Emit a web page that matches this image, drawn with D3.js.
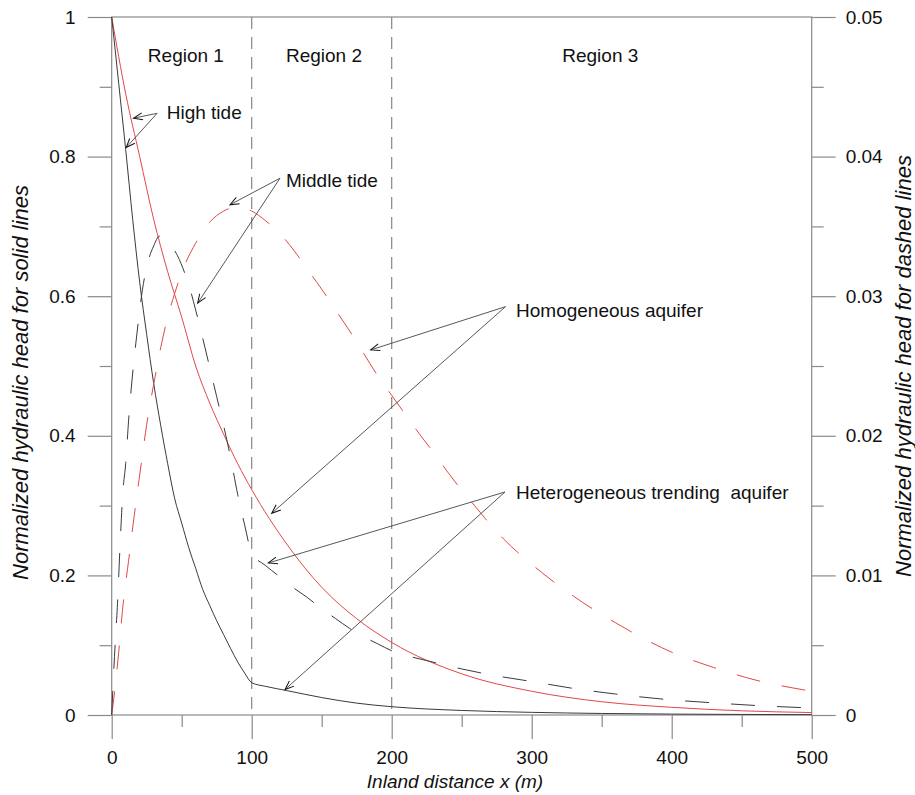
<!DOCTYPE html>
<html>
<head>
  <meta charset="UTF-8">
  <title>Normalized hydraulic head</title>
  <style>
    body { margin: 0; background: #fff; }
    svg { display: block; font-family: "Liberation Sans", Arial, sans-serif; }
    .axis line { stroke: #8a8a8a; stroke-width: 1.2; }
    .axis path { display: none; }
    .axis text { font-size: 19px; fill: #111; }
    .lbl { font-size: 19px; fill: #111; white-space: pre; }
    .title { font-size: 22px; font-style: italic; fill: #111; }
    .arrow { stroke: #444; stroke-width: 0.9; fill: none; }
  </style>
</head>
<body>
  <svg></svg>
  <script src="https://d3js.org/d3.v7.min.js"></script>
  <script>
    let width = 915, height = 795;

    // solid lines, left axis (high tide)
    const homoHighX = [0, 10, 20, 30, 40, 50, 60, 70, 80, 90, 100, 125, 150, 175, 200, 250, 300, 350, 400, 450, 500];
    const homoHighY = [1, 0.89, 0.80, 0.71, 0.635, 0.57, 0.50, 0.447, 0.402, 0.36, 0.323, 0.245, 0.183, 0.138, 0.104, 0.059, 0.034, 0.019, 0.011, 0.006, 0.0035];
    const hetHighX = [0, 5, 10, 15, 20, 25, 30, 35, 40, 45, 50, 55, 60, 65, 70, 75, 80, 85, 90, 95, 100, 110, 125, 150, 175, 200, 250, 300, 350, 400, 450, 500];
    const hetHighY = [1, 0.905, 0.81, 0.71, 0.62, 0.545, 0.475, 0.415, 0.36, 0.31, 0.275, 0.24, 0.21, 0.18, 0.157, 0.135, 0.115, 0.095, 0.076, 0.06, 0.0463, 0.041, 0.035, 0.025, 0.017, 0.0119, 0.0065, 0.0038, 0.0022, 0.0013, 0.0008, 0.0005];

    // dashed lines, right axis (middle tide)
    const homoMidX = [0, 2, 5, 8, 12, 16, 20, 25, 30, 35, 40, 45, 50, 60, 70, 80, 90, 100, 110, 120, 130, 140, 150, 160, 170, 180, 190, 200, 210, 220, 230, 240, 250, 260, 270, 280, 300, 330, 360, 400, 430, 460, 500];
    const homoMidY = [0, 0.0016, 0.0045, 0.0078, 0.011, 0.0142, 0.0172, 0.0208, 0.0237, 0.0263, 0.0285, 0.0302, 0.0317, 0.0338, 0.0353, 0.0361, 0.0364, 0.0361, 0.0354, 0.0345, 0.0333, 0.0319, 0.0305, 0.029, 0.0275, 0.0259, 0.0243, 0.0229, 0.0215, 0.0201, 0.0188, 0.0174, 0.0161, 0.0149, 0.0137, 0.0126, 0.0108, 0.0085, 0.0066, 0.0045, 0.0034, 0.0025, 0.0017];
    const hetMidX = [0, 1, 2, 3, 4, 6, 8, 10, 12, 15, 18, 22, 26, 30, 34, 38, 42, 47, 52, 56, 60, 65, 70, 75, 80, 85, 90, 95, 100, 110, 120, 130, 140, 150, 160, 170, 180, 190, 200, 225, 250, 275, 300, 330, 360, 400, 430, 460, 500];
    const hetMidY = [0, 0.0022, 0.0042, 0.006, 0.0077, 0.0122, 0.016, 0.018, 0.021, 0.0245, 0.0273, 0.0305, 0.0325, 0.0336, 0.0343, 0.0342, 0.0337, 0.0329, 0.0317, 0.0305, 0.029, 0.027, 0.0249, 0.0228, 0.0207, 0.0184, 0.0158, 0.0136, 0.0116, 0.0107, 0.0099, 0.0091, 0.0084, 0.0076, 0.0069, 0.0062, 0.0056, 0.0051, 0.0046, 0.0039, 0.0033, 0.0028, 0.0024, 0.0019, 0.0015, 0.00108, 0.00087, 0.00068, 0.0005];

    const xTicks = [0, 100, 200, 300, 400, 500];
    const yLeftTicks = [0, 0.2, 0.4, 0.6, 0.8, 1];
    const yRightTicks = [0, 0.01, 0.02, 0.03, 0.04, 0.05];
    const regionBounds = [100, 200];
    const regionNames = ["Region 1", "Region 2", "Region 3"];
    const regionCenters = [53, 151.6, 349];

    // annotations in data units (x, left-axis value)
    const notes = [
      { text: "High tide", at: [39.3, 0.8537], from: [32.4, 0.862], tips: [[15.6, 0.855], [10.4, 0.813]] },
      { text: "Middle tide", at: [124.5, 0.757], from: [120.2, 0.769], tips: [[84.5, 0.731], [61.4, 0.590]] },
      { text: "Homogeneous aquifer", at: [288.8, 0.570], from: [281.3, 0.585], tips: [[185, 0.523], [114.3, 0.289]] },
      { text: "Heterogeneous trending  aquifer", at: [288.8, 0.309], from: [280.9, 0.3195], tips: [[111.9, 0.2178], [123.8, 0.0365]] }
    ];

    let svg = d3.select("svg").attr("width", width).attr("height", height);

    let x = d3.scaleLinear().domain([0, 500]).range([111.7, 811.7]);
    let yL = d3.scaleLinear().domain([0, 1]).range([715, 17]);
    let yR = d3.scaleLinear().domain([0, 0.05]).range([715, 17]);

    // frame
    svg.append("rect")
      .attr("x", x(0)).attr("y", yL(1))
      .attr("width", x(500) - x(0)).attr("height", yL(0) - yL(1))
      .attr("fill", "none").attr("stroke", "#8a8a8a").attr("stroke-width", 1.2);

    // region dividers
    svg.selectAll(".divider").data(regionBounds).enter().append("line")
      .attr("x1", d => x(d)).attr("x2", d => x(d))
      .attr("y1", yL(1)).attr("y2", yL(0))
      .attr("stroke", "#858585").attr("stroke-width", 1.2)
      .attr("stroke-dasharray", "12,8");

    // axes
    svg.append("g").attr("class", "axis")
      .attr("transform", `translate(0,${yL(0)})`)
      .call(d3.axisBottom(x).tickValues(xTicks).tickSize(24).tickPadding(12).tickFormat(d3.format("d")));
    svg.append("g").attr("class", "axis")
      .attr("transform", `translate(0,${yL(0)})`)
      .call(d3.axisBottom(x).tickValues([50, 150, 250, 350, 450]).tickSize(12).tickFormat(""));

    svg.append("g").attr("class", "axis")
      .attr("transform", `translate(${x(0)},0)`)
      .call(d3.axisLeft(yL).tickValues(yLeftTicks).tickSize(24).tickPadding(12).tickFormat(d => d));
    svg.append("g").attr("class", "axis")
      .attr("transform", `translate(${x(0)},0)`)
      .call(d3.axisLeft(yL).tickValues([0.1, 0.3, 0.5, 0.7, 0.9]).tickSize(12).tickFormat(""));

    svg.append("g").attr("class", "axis")
      .attr("transform", `translate(${x(500)},0)`)
      .call(d3.axisRight(yR).tickValues(yRightTicks).tickSize(24).tickPadding(10).tickFormat(d => d));
    svg.append("g").attr("class", "axis")
      .attr("transform", `translate(${x(500)},0)`)
      .call(d3.axisRight(yR).tickValues([0.005, 0.015, 0.025, 0.035, 0.045]).tickSize(12).tickFormat(""));

    svg.selectAll(".axis text").attr("font-family", "Liberation Sans, Arial, sans-serif");

    // curves
    let lineL = d3.line().x(d => x(d[0])).y(d => yL(d[1])).curve(d3.curveMonotoneX);
    let lineR = d3.line().x(d => x(d[0])).y(d => yR(d[1])).curve(d3.curveMonotoneX);
    let series = [
      { xs: homoHighX, ys: homoHighY, line: lineL, color: "#e04848", dash: null },
      { xs: hetHighX, ys: hetHighY, line: lineL, color: "#3a3a3a", dash: null },
      { xs: homoMidX, ys: homoMidY, line: lineR, color: "#e04848", dash: "24,22" },
      { xs: hetMidX, ys: hetMidY, line: lineR, color: "#3a3a3a", dash: "24,22" }
    ];
    svg.selectAll(".curve").data(series).enter().append("path")
      .attr("d", s => s.line(s.xs.map((v, i) => [v, s.ys[i]])))
      .attr("fill", "none")
      .attr("stroke", s => s.color)
      .attr("stroke-width", 1)
      .attr("stroke-dasharray", s => s.dash);

    // region labels
    svg.selectAll(".region").data(regionNames).enter().append("text")
      .attr("class", "lbl")
      .attr("x", (d, i) => x(regionCenters[i]))
      .attr("y", yL(0.9355))
      .attr("text-anchor", "middle")
      .text(d => d);

    // arrows
    svg.append("defs").append("marker")
      .attr("id", "head")
      .attr("viewBox", "-10 -5 12 10")
      .attr("refX", 0).attr("refY", 0)
      .attr("markerWidth", 12).attr("markerHeight", 10)
      .attr("markerUnits", "userSpaceOnUse")
      .attr("orient", "auto")
      .append("path")
      .attr("d", "M-9,-3.5 L0,0 L-9,3.5")
      .attr("fill", "none").attr("stroke", "#111").attr("stroke-width", 1);

    notes.forEach(n => {
      n.tips.forEach(t => {
        svg.append("line").attr("class", "arrow")
          .attr("x1", x(n.from[0])).attr("y1", yL(n.from[1]))
          .attr("x2", x(t[0])).attr("y2", yL(t[1]))
          .attr("marker-end", "url(#head)");
      });
      svg.append("text").attr("class", "lbl")
        .attr("x", x(n.at[0])).attr("y", yL(n.at[1]))
        .attr("xml:space", "preserve")
        .text(n.text);
    });

    // axis titles
    svg.append("text").attr("class", "title")
      .attr("transform", "translate(28,382.5) rotate(-90)")
      .attr("text-anchor", "middle")
      .text("Normalized hydraulic head for solid lines");
    svg.append("text").attr("class", "title")
      .attr("transform", "translate(911,366) rotate(-90)")
      .attr("text-anchor", "middle")
      .text("Normalized hydraulic head for dashed lines");
    svg.append("text").attr("class", "title")
      .attr("x", 455).attr("y", 788)
      .attr("text-anchor", "middle")
      .style("font-size", "19px")
      .text("Inland distance x (m)");
  </script>
</body>
</html>
